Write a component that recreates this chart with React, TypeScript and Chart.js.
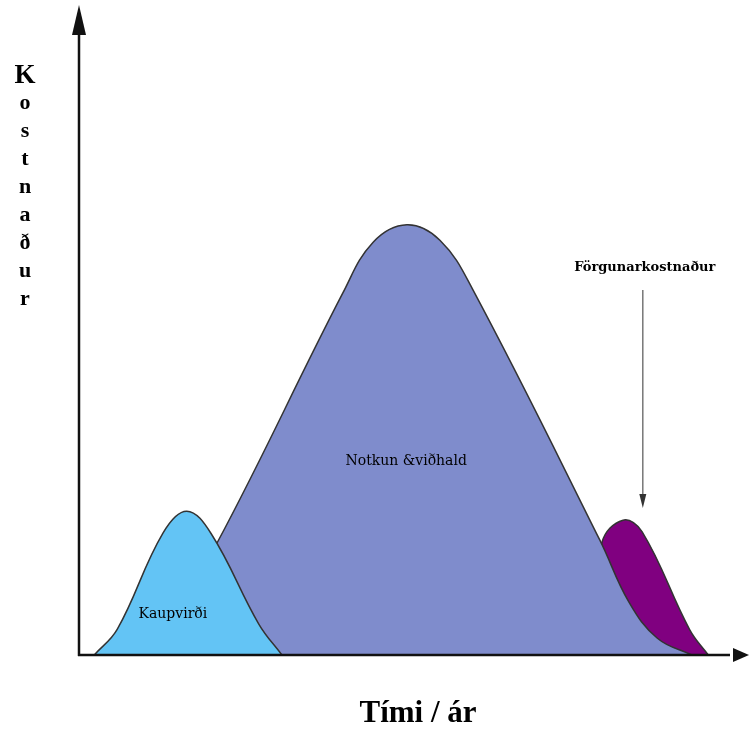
import React, { useEffect, useRef } from "react";
import { Chart, registerables } from "chart.js";

Chart.register(...registerables);

// Kaupvirði (purchase cost) curve: [time, cost]
const kaupX = [2.3, 5.8, 12.7, 16.3, 20.0, 27.2, 30.7];
const kaupY = [0, 4.0, 18.9, 22.3, 18.8, 4.8, 0];

// Notkun & viðhald (use & maintenance) curve
const notkunX = [10.7, 20.9, 39.9, 44.5, 49.6, 54.6, 59.6, 78.8, 83.2, 87.5, 92.7];
const notkunY = [0, 17.4, 56.1, 64.0, 66.7, 64.3, 56.6, 17.8, 8.2, 2.6, 0];

// Förgunarkostnaður (disposal cost) curve
const forgunX = [77.0, 79.1, 82.3, 85.2, 92.4, 95.2];
const forgunY = [0, 17.4, 20.9, 19.1, 3.9, 0];

const seriesLabels = ["Kaupvirði", "Notkun &viðhald", "Förgunarkostnaður"];
const yAxisTitle = "Kostnaður";
const xAxisTitle = "Tími / ár";

const toPoints = (xs: number[], ys: number[]) => xs.map((x, i) => ({ x, y: ys[i] }));

const decorPlugin = {
  id: "decor",
  afterDatasetsDraw(chart: any) {
    const ctx = chart.ctx as CanvasRenderingContext2D;
    const xs = chart.scales.x;
    const ys = chart.scales.y;
    const x0 = xs.getPixelForValue(0);
    const y0 = ys.getPixelForValue(0);
    ctx.save();
    // axes
    ctx.strokeStyle = "#111";
    ctx.fillStyle = "#111";
    ctx.lineWidth = 2.5;
    ctx.beginPath();
    ctx.moveTo(x0, y0 + 1);
    ctx.lineTo(x0, 30);
    ctx.moveTo(x0 - 1, y0);
    ctx.lineTo(730, y0);
    ctx.stroke();
    // y arrow
    ctx.beginPath();
    ctx.moveTo(x0, 5);
    ctx.lineTo(x0 - 7, 35);
    ctx.lineTo(x0 + 7, 35);
    ctx.closePath();
    ctx.fill();
    // x arrow
    ctx.beginPath();
    ctx.moveTo(749, y0);
    ctx.lineTo(733, y0 - 7);
    ctx.lineTo(733, y0 + 7);
    ctx.closePath();
    ctx.fill();

    // disposal pointer arrow
    const ax = xs.getPixelForValue(85.3);
    ctx.strokeStyle = "#555";
    ctx.fillStyle = "#333";
    ctx.lineWidth = 1.2;
    ctx.beginPath();
    ctx.moveTo(ax, 290);
    ctx.lineTo(ax, 498);
    ctx.stroke();
    ctx.beginPath();
    ctx.moveTo(ax, 508);
    ctx.lineTo(ax - 3.5, 494);
    ctx.lineTo(ax + 3.5, 494);
    ctx.closePath();
    ctx.fill();

    // texts
    ctx.fillStyle = "#000";
    ctx.textAlign = "center";
    ctx.textBaseline = "middle";
    ctx.font = "14px 'DejaVu Serif', serif";
    ctx.fillText(seriesLabels[0], xs.getPixelForValue(14.2), ys.getPixelForValue(6.3));
    ctx.fillText(seriesLabels[1], xs.getPixelForValue(49.5), ys.getPixelForValue(30.0));
    ctx.font = "bold 13px 'DejaVu Serif', serif";
    ctx.fillText(seriesLabels[2], xs.getPixelForValue(85.6), 268);

    // vertical y title
    const letters = Array.from(yAxisTitle);
    letters.forEach((ch, i) => {
      ctx.font = i === 0 ? "bold 27px 'Liberation Serif', serif" : "bold 22px 'Liberation Serif', serif";
      ctx.fillText(ch, 25, i === 0 ? 76 : 103 + (i - 1) * 28);
    });

    // x title
    ctx.font = "bold 31px 'Liberation Serif', serif";
    ctx.fillText(xAxisTitle, 418, 714);
    ctx.restore();
  },
};

export default function App() {
  const ref = useRef<HTMLCanvasElement | null>(null);
  useEffect(() => {
    document.body.style.margin = "0";
    if (!ref.current) return;
    const outline = "#333";
    const common = {
      borderColor: outline,
      borderWidth: 1.5,
      fill: "origin",
      pointRadius: 0,
      tension: 0.4,
    };
    const chart = new Chart(ref.current, {
      type: "line",
      data: {
        datasets: [
          { ...common, label: seriesLabels[0], data: toPoints(kaupX, kaupY), backgroundColor: "#63C4F5" },
          { ...common, label: seriesLabels[1], data: toPoints(notkunX, notkunY), backgroundColor: "#7F8CCC" },
          { ...common, label: seriesLabels[2], data: toPoints(forgunX, forgunY), backgroundColor: "#800080" },
        ] as any,
      },
      options: {
        animation: false,
        responsive: false,
        devicePixelRatio: 1,
        layout: { padding: { left: 79, right: 10, top: 10, bottom: 77 } },
        plugins: { legend: { display: false }, tooltip: { enabled: false } },
        scales: {
          x: { type: "linear", min: 0, max: 100, display: false },
          y: { type: "linear", min: 0, max: 100, display: false },
        },
      },
      plugins: [decorPlugin],
    });
    return () => chart.destroy();
  }, []);
  return (
    <div style={{ width: 750, height: 732, background: "#fff" }}>
      <canvas ref={ref} width={750} height={732} style={{ display: "block" }} />
    </div>
  );
}
